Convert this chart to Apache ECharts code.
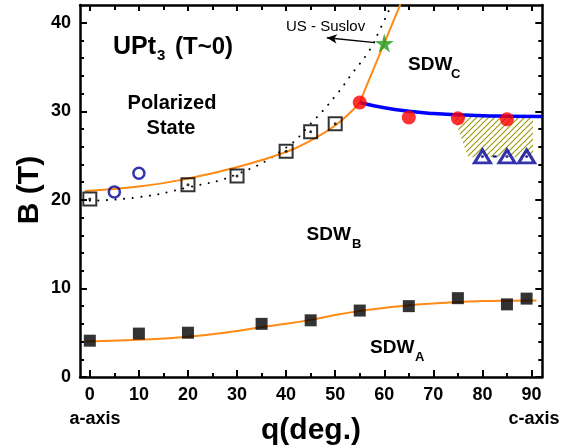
<!DOCTYPE html>
<html><head><meta charset="utf-8">
<script src="https://cdn.jsdelivr.net/npm/echarts@6/dist/echarts.min.js"></script>
<style>html,body{margin:0;padding:0;background:#fff}#c{width:571px;height:448px}</style>
</head><body><div id="c"></div>
<script>
// ---- tick values ----
const xMajor = [0,10,20,30,40,50,60,70,80,90];
const xMinor = [5,15,25,35,45,55,65,75,85];
const yMajor = [0,10,20,30,40];
const yMinor = [2,4,6,8,12,14,16,18,22,24,26,28,32,34,36,38];

// ---- data (deg, Tesla) ----
const openSquares   = [[0,20.1],[20,21.7],[30,22.7],[40,25.5],[45,27.7],[50,28.6]];
const openCircles   = [[5,20.9],[10,23.0]];
const redCircles    = [[55,31.0],[65,29.3],[75,29.2],[85,29.1]];
const starPoint     = [[60,37.7]];
const triangles     = [[80,24.9],[85,24.9],[89,24.9]];
const triDash       = [[82.1,24.9],[82.9,24.9]];
const filledSquares = [[0,4.1],[10,4.9],[20,5.0],[35,6.0],[45,6.4],[55,7.5],[65,8.0],[75,8.9],[85,8.2],[89,8.85]];
const lowerFit      = [[-1,4.0],[10,4.2],[20,4.55],[30,5.2],[35,5.65],[40,6.0],[45,6.45],[50,7.0],[55,7.45],[60,7.8],[65,8.1],[70,8.3],[75,8.47],[80,8.57],[85,8.62],[91,8.65]];
const upperFit      = [[-1,21.0],[10,21.5],[20,22.4],[30,23.7],[40,25.4],[45,26.7],[50,28.4],[53.7,30.2],[55,31.0]];
const steepLine     = [[55,31.0],[60,37.7],[63.3,42.1]];
const dottedCurve   = [[0,19.9],[10,20.3],[20,21.4],[30,22.9],[40,25.9],[45,28.6],[50,31.7],[53.5,34.3],[57,36.9],[59,39.1],[61.2,41.7],[61.5,42.1]];
const blueLine      = [[55,31.0],[60,30.4],[65,30.0],[70,29.75],[75,29.6],[80,29.5],[85,29.45],[92.2,29.4]];
const hatchRegion   = [[74.1,29.4],[90.3,29.4],[90.3,24.8],[77.1,24.8]];
const suslovArrow   = [[58.1,37.75],[48.3,38.3]];

const FONT = '"Liberation Sans", Arial, sans-serif';

// hatch pattern
const pat = document.createElement('canvas');
pat.width = 6; pat.height = 6;
(function(){
  const g = pat.getContext('2d');
  g.strokeStyle = '#9c9c10'; g.lineWidth = 1.2;
  g.beginPath();
  g.moveTo(0,6); g.lineTo(6,0);
  g.moveTo(-1,1); g.lineTo(1,-1);
  g.moveTo(5,7); g.lineTo(7,5);
  g.stroke();
})();

function xAx(pos, ticks, len, showLine, showLabel){
  return {type:'value', position:pos, min:-2, max:92.2,
    axisLine:{show:showLine, onZero:false, lineStyle:{color:'#000', width:2.5}},
    axisTick:{show:true, inside:true, length:len, customValues:ticks, lineStyle:{color:'#000', width:2}},
    axisLabel:{show:showLabel, customValues:ticks, margin:9, color:'#000', fontSize:18, fontWeight:'bold', fontFamily:FONT},
    splitLine:{show:false}};
}
function yAx(pos, ticks, len, showLine, showLabel){
  return {type:'value', position:pos, min:0, max:42,
    axisLine:{show:showLine, onZero:false, lineStyle:{color:'#000', width:2.5}},
    axisTick:{show:true, inside:true, length:len, customValues:ticks, lineStyle:{color:'#000', width:2}},
    axisLabel:{show:showLabel, customValues:ticks, margin:9, color:'#000', fontSize:18, fontWeight:'bold', fontFamily:FONT},
    splitLine:{show:false}};
}
function txt(x, y, text, size, weight, align, rot){
  return {type:'text', x:x, y:y, rotation:rot||0, z:100,
    style:{text:text, font: weight+' '+size+'px '+FONT, fill:'#000',
      align:align||'left', verticalAlign:'middle', textAlign:align||'left', textVerticalAlign:'middle'}};
}

const star = 'path://M50,0 L61,35 L98,35 L68,57 L79,91 L50,70 L21,91 L32,57 L2,35 L39,35 Z';

const chart = echarts.init(document.getElementById('c'), null, {renderer:'canvas'});
chart.setOption({
  animation:false,
  backgroundColor:'#fff',
  grid:{left:80, right:28.7, top:5, bottom:71, containLabel:false},
  xAxis:[ xAx('bottom', xMajor, 7, true, true), xAx('bottom', xMinor, 4, false, false),
          xAx('top', xMajor, 6, true, false), xAx('top', xMinor, 5, false, false) ],
  yAxis:[ yAx('left', yMajor, 7, true, true), yAx('left', yMinor, 4, false, false),
          yAx('right', yMajor, 7, true, false), yAx('right', yMinor, 4, false, false) ],
  series:[
    {type:'custom', z:1, data:hatchRegion, silent:true,
     renderItem:function(params, api){
       if (params.dataIndex !== 0) return null;
       const pts = hatchRegion.map(p => api.coord(p));
       return {type:'polygon', shape:{points:pts}, style:{fill:{image:pat, repeat:'repeat'}, stroke:null}};
     }},
    {type:'line', data:dottedCurve, smooth:true, showSymbol:false, symbol:'none', z:2,
     lineStyle:{color:'#000', width:2, type:[0.1,8.5], cap:'round'}},
    {type:'line', data:lowerFit, smooth:true, symbol:'none', z:3, lineStyle:{color:'#ff8a14', width:2}},
    {type:'line', data:upperFit, smooth:true, symbol:'none', z:3, lineStyle:{color:'#ff8a14', width:2}},
    {type:'line', data:steepLine, smooth:true, symbol:'none', z:3, lineStyle:{color:'#ff8a14', width:2}},
    {type:'line', data:blueLine, smooth:true, symbol:'none', z:3, lineStyle:{color:'#0000ff', width:3.5}},
    {type:'line', data:triDash, symbol:'none', z:4, lineStyle:{color:'#000099', width:2}},
    {type:'scatter', data:openSquares, symbol:'rect', symbolSize:13, z:5,
     itemStyle:{color:'rgba(0,0,0,0)', borderColor:'#000', borderWidth:2}},
    {type:'scatter', data:openSquares, symbol:'circle', symbolSize:3, z:6, itemStyle:{color:'#000'}},
    {type:'scatter', data:openCircles, symbol:'circle', symbolSize:11, z:5,
     itemStyle:{color:'rgba(0,0,0,0)', borderColor:'#000099', borderWidth:2.5}},
    {type:'scatter', data:redCircles, symbol:'circle', symbolSize:14, z:6, itemStyle:{color:'#ff0000'}},
    {type:'scatter', data:triangles, symbol:'triangle', symbolSize:[16,13], z:6,
     itemStyle:{color:'#fff', borderColor:'#000099', borderWidth:3}},
    {type:'scatter', data:triangles, symbol:'circle', symbolSize:3, z:7, itemStyle:{color:'#000099'}},
    {type:'scatter', data:filledSquares, symbol:'rect', symbolSize:12, z:6, itemStyle:{color:'#000'}},
    {type:'scatter', data:starPoint, symbol:star, symbolSize:19, z:7, itemStyle:{color:'#1e9b1e'},
     markLine:{silent:true, animation:false, symbol:['none','arrow'], symbolSize:[7,10],
       lineStyle:{color:'#000', width:1.3, type:'solid'}, label:{show:false},
       emphasis:{disabled:true},
       data:[[{coord:suslovArrow[0]},{coord:suslovArrow[1]}]]}}
  ],
  graphic:[
    txt(113, 47, 'UPt', 25, 'bold'),
    txt(157, 56, '3', 15, 'bold'),
    txt(175, 47, '(T~0)', 24, 'bold'),
    txt(172, 103.5, 'Polarized', 20, 'bold', 'center'),
    txt(171, 128.5, 'State', 20, 'bold', 'center'),
    txt(286, 27, 'US - Suslov', 15, 'normal'),
    txt(408, 65, 'SDW', 19, 'bold'),
    txt(451, 74, 'C', 13, 'bold'),
    txt(306.5, 234.5, 'SDW', 19, 'bold'),
    txt(352, 244, 'B', 13, 'bold'),
    txt(370, 348, 'SDW', 19, 'bold'),
    txt(415, 357, 'A', 13, 'bold'),
    txt(95, 419, 'a-axis', 18, 'bold', 'center'),
    txt(534, 419, 'c-axis', 18, 'bold', 'center'),
    txt(311, 431, 'q(deg.)', 30, 'bold', 'center'),
    txt(30, 190, 'B (T)', 30, 'bold', 'center', Math.PI/2)
  ]
});
</script>
</body></html>
